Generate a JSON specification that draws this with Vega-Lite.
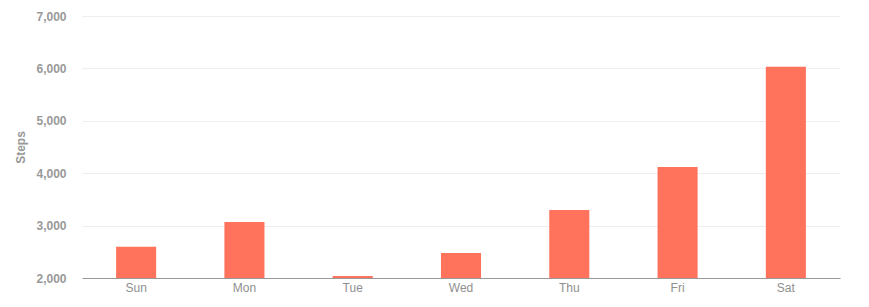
{
  "$schema": "https://vega.github.io/schema/vega-lite/v6.json",
  "width": 758,
  "height": 262,
  "autosize": {"type": "none"},
  "padding": {"left": 82, "top": 16, "right": 29, "bottom": 29},
  "background": "white",
  "data": {
    "values": [
      {"day": "Sun", "steps": 2595},
      {"day": "Mon", "steps": 3070},
      {"day": "Tue", "steps": 2040},
      {"day": "Wed", "steps": 2478},
      {"day": "Thu", "steps": 3300},
      {"day": "Fri", "steps": 4120},
      {"day": "Sat", "steps": 6030}
    ]
  },
  "config": {
    "view": {"stroke": null},
    "font": "Liberation Sans"
  },
  "mark": {"type": "bar", "color": "#ff725c"},
  "encoding": {
    "x": {
      "field": "day",
      "type": "nominal",
      "sort": null,
      "scale": {"paddingInner": 0.63, "paddingOuter": 0.315},
      "axis": {
        "title": null,
        "labelAngle": 0,
        "labelColor": "#8f8f8f",
        "labelFont": "Liberation Sans",
        "labelFontSize": 12,
        "labelPadding": 4,
        "ticks": false,
        "domainColor": "#999999",
        "domainWidth": 1.2,
        "grid": false,
        "zindex": 1
      }
    },
    "y": {
      "field": "steps",
      "type": "quantitative",
      "scale": {"domain": [2000, 7000], "nice": false, "zero": false},
      "axis": {
        "title": "Steps",
        "titleColor": "#999999",
        "titleFont": "Liberation Sans",
        "titleFontSize": 12,
        "titleFontWeight": "bold",
        "titlePadding": 8,
        "values": [2000, 3000, 4000, 5000, 6000, 7000],
        "format": ",d",
        "labelColor": "#999999",
        "labelFont": "Liberation Sans",
        "labelFontSize": 12,
        "labelFontWeight": "bold",
        "labelPadding": 16,
        "ticks": false,
        "domain": false,
        "gridColor": "#eeeeee",
        "gridWidth": 1
      }
    },
    "y2": {"datum": 2000}
  }
}
